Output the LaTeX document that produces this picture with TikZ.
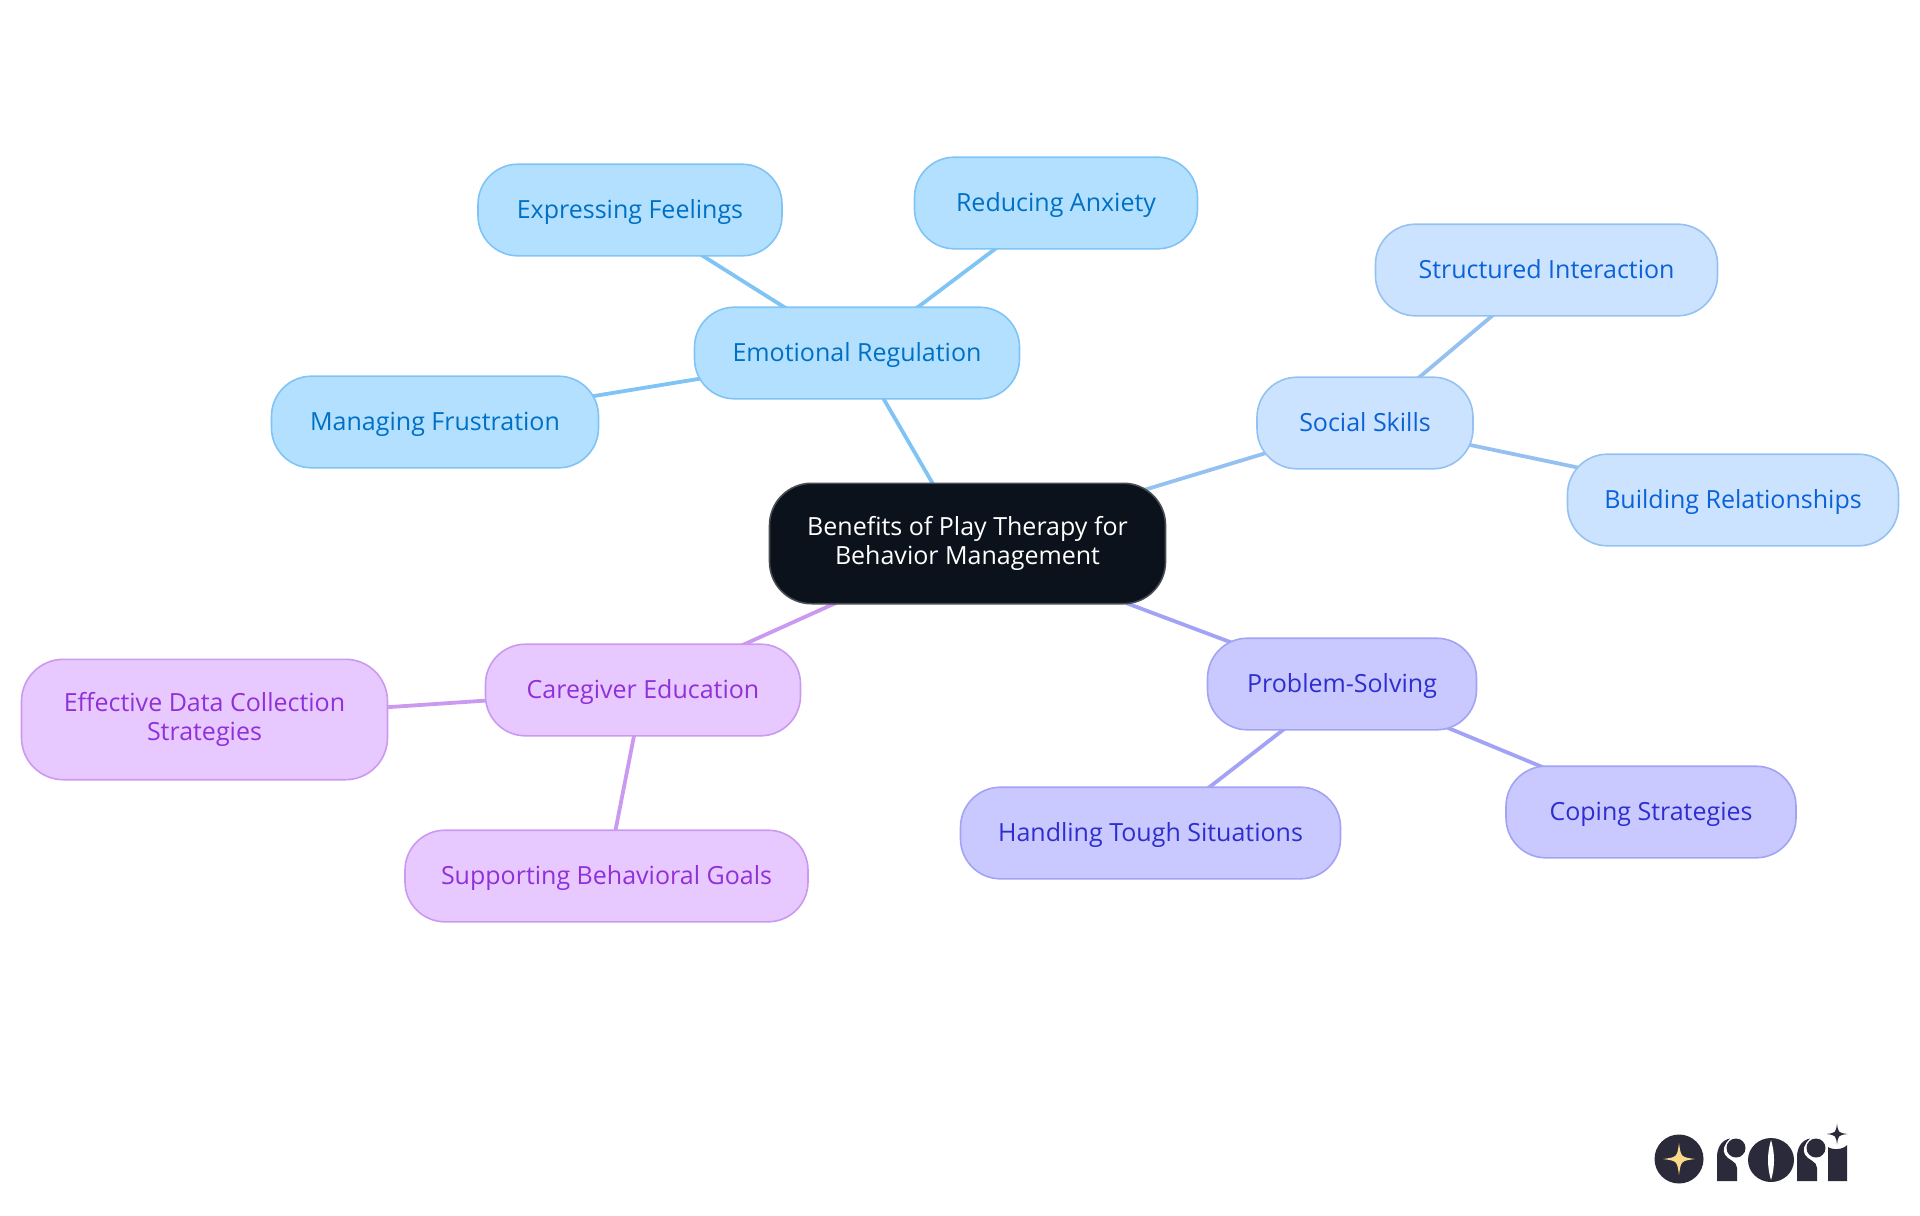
\documentclass[tikz,border=0pt]{standalone}
\usepackage{fontspec}
\setmainfont{Open Sans}
\usetikzlibrary{backgrounds}
\definecolor{rootfill}{HTML}{0B121B}
\definecolor{emofill}{HTML}{B3E0FF}
\definecolor{emoline}{HTML}{7FC4F5}
\definecolor{emotext}{HTML}{0070C4}
\definecolor{socfill}{HTML}{CCE3FF}
\definecolor{socline}{HTML}{94C1F2}
\definecolor{soctext}{HTML}{0B62D6}
\definecolor{probfill}{HTML}{C9C9FF}
\definecolor{probline}{HTML}{A3A3F5}
\definecolor{probtext}{HTML}{2E2ECF}
\definecolor{carefill}{HTML}{E8C9FF}
\definecolor{careline}{HTML}{CB99F0}
\definecolor{caretext}{HTML}{9030D8}
\definecolor{logodark}{HTML}{2A2A3A}
\definecolor{logostar}{HTML}{FBD98A}
\newcommand{\logostarshape}[4]{%
  \fill[#4] (#1,#2-#3) .. controls (#1+.12*#3,#2-.12*#3) .. (#1+#3,#2)
    .. controls (#1+.12*#3,#2+.12*#3) .. (#1,#2+#3)
    .. controls (#1-.12*#3,#2+.12*#3) .. (#1-#3,#2)
    .. controls (#1-.12*#3,#2-.12*#3) .. cycle;}
\newcommand{\logoletter}[1]{%
  \fill[logodark] (#1,1181) -- (#1,1157) .. controls (#1,1147) and (#1+5,1140) .. (#1+13,1138.5)
    .. controls (#1+7,1144) and (#1+5,1150) .. (#1+8,1155)
    .. controls (#1+11,1160) and (#1+20,1161) .. (#1+20,1168) -- (#1+20,1181) -- cycle;
  \fill[logodark] (#1+19,1148) circle [radius=9.5];}
\begin{document}
\begin{tikzpicture}[
      x=0.5pt, y=-0.5pt,
      basebox/.style = {draw, rounded corners=20pt, minimum height=45.8pt, inner sep=0pt,
                        align=center, font=\fontsize{12.5}{14.5}\selectfont, line width=0.8pt,
                        text height=10.6pt, text depth=2.6pt},
      twolines/.style = {rounded corners=21pt, minimum height=60.2pt,
                         text height=, text depth=},
      centre/.style  = {basebox, twolines, fill=rootfill, draw=rootfill!75!white, text=white},
      emotion/.style = {basebox, fill=emofill, draw=emoline, text=emotext},
      social/.style  = {basebox, fill=socfill, draw=socline, text=soctext},
      problem/.style = {basebox, fill=probfill, draw=probline, text=probtext},
      care/.style    = {basebox, fill=carefill, draw=careline, text=caretext},
      link/.style    = {line width=1.9pt},
    ]
    \useasboundingbox (0,0) rectangle (1920,1215);

    \node[centre, minimum width=198pt] (root) at (967.5,543.5)
      {Benefits of Play Therapy for\\Behavior Management};

    \node[emotion, minimum width=162.5pt] (regulation) at (857,353) {Emotional Regulation};
    \node[emotion, minimum width=152pt] (feelings) at (630,210) {Expressing Feelings};
    \node[emotion, minimum width=141.5pt] (anxiety) at (1056,203) {Reducing Anxiety};
    \node[emotion, minimum width=163.5pt] (frustration) at (435,422) {Managing Frustration};

    \node[social, minimum width=108pt] (skills) at (1365,423) {Social Skills};
    \node[social, minimum width=171pt] (interaction) at (1546.5,270) {Structured Interaction};
    \node[social, minimum width=165.5pt] (relations) at (1733,500) {Building Relationships};

    \node[problem, minimum width=134.5pt] (solving) at (1342,684) {Problem-Solving};
    \node[problem, minimum width=190pt] (tough) at (1150.5,833) {Handling Tough Situations};
    \node[problem, minimum width=145pt] (coping) at (1651,812) {Coping Strategies};

    \node[care, minimum width=157.5pt] (caregiver) at (643,690) {Caregiver Education};
    \node[care, twolines, minimum width=183pt] (data) at (204.5,719.5)
      {Effective Data Collection\\Strategies};
    \node[care, minimum width=201.5pt] (goals) at (606.5,876) {Supporting Behavioral Goals};

    % Links run behind the boxes
    \begin{scope}[on background layer]
      \draw[link, emoline] (root.center) -- (regulation.center);
      \draw[link, emoline] (regulation.center) -- (feelings.center);
      \draw[link, emoline] (regulation.center) -- (anxiety.center);
      \draw[link, emoline] (regulation.center) -- (frustration.center);
      \draw[link, socline] (root.center) -- (skills.center);
      \draw[link, socline] (skills.center) -- (interaction.center);
      \draw[link, socline] (skills.center) -- (relations.center);
      \draw[link, probline] (root.center) -- (solving.center);
      \draw[link, probline] (solving.center) -- (tough.center);
      \draw[link, probline] (solving.center) -- (coping.center);
      \draw[link, careline] (root.center) -- (caregiver.center);
      \draw[link, careline] (caregiver.center) -- (data.center);
      \draw[link, careline] (caregiver.center) -- (goals.center);
    \end{scope}

    % Logo
    \fill[logodark] (1679,1159) circle [radius=24.5];
    \logostarshape{1679}{1159}{16}{logostar}
    \logoletter{1717}
    \fill[logodark] (1771,1160) ellipse [x radius=23, y radius=22];
    \fill[white] (1771,1140) .. controls (1767,1153) and (1767,1167) .. (1771,1180)
      .. controls (1775,1167) and (1775,1153) .. cycle;
    \logoletter{1797}
    \fill[logodark] (1828,1147) .. controls (1832,1150) and (1843,1150) .. (1847,1145)
      -- (1847,1181) -- (1828,1181) -- cycle;
    \logostarshape{1837}{1134}{10.5}{logodark}
\end{tikzpicture}
\end{document}
